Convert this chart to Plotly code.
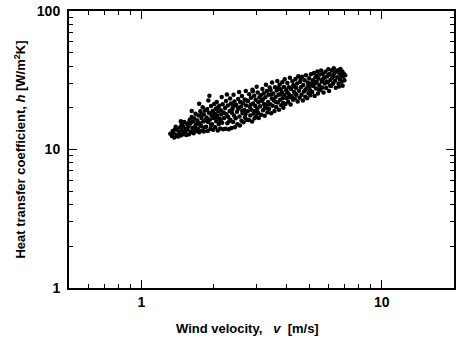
import plotly.graph_objects as go

# Measured wind velocity v [m/s] and heat transfer coefficient h [W/m^2K]
velocity = [
    1.32, 1.34, 1.35, 1.37, 1.38, 1.36, 1.40, 1.41, 1.39, 1.42,
    1.44, 1.45, 1.46, 1.47, 1.48, 1.50, 1.49, 1.51, 1.52, 1.53, 1.54, 1.55, 1.46, 1.50,
    1.56, 1.57, 1.58, 1.59, 1.60, 1.61, 1.62, 1.63, 1.64, 1.65, 1.66, 1.67, 1.68, 1.69, 1.70, 1.62, 1.58, 1.66,
    1.71, 1.72, 1.73, 1.74, 1.75, 1.76, 1.77, 1.78, 1.79, 1.80, 1.81, 1.82, 1.83, 1.84, 1.85, 1.74, 1.79, 1.82, 1.76,
    1.86, 1.87, 1.88, 1.89, 1.90, 1.91, 1.92, 1.93, 1.94, 1.95, 1.96, 1.97, 1.98, 1.99, 2.00, 2.01, 2.02, 1.90, 1.95, 1.99, 1.88,
    2.03, 2.04, 2.05, 2.06, 2.07, 2.08, 2.09, 2.10, 2.11, 2.12, 2.13, 2.14, 2.15, 2.16, 2.17, 2.18, 2.19, 2.20, 2.08, 2.14, 2.05,
    2.21, 2.23, 2.24, 2.25, 2.26, 2.28, 2.29, 2.30, 2.31, 2.33, 2.34, 2.35, 2.36, 2.37, 2.38, 2.40, 2.41, 2.42, 2.43, 2.44, 2.45, 2.27, 2.39, 2.32, 2.44,
    2.47, 2.48, 2.50, 2.51, 2.53, 2.54, 2.56, 2.57, 2.58, 2.60, 2.61, 2.62, 2.64, 2.65, 2.66, 2.68, 2.69, 2.70, 2.72, 2.73, 2.74, 2.75, 2.55, 2.63, 2.71, 2.52,
    2.77, 2.78, 2.80, 2.81, 2.83, 2.84, 2.86, 2.87, 2.89, 2.90, 2.92, 2.93, 2.95, 2.96, 2.98, 2.99, 3.01, 3.02, 3.04, 3.05, 3.07, 3.08, 3.10, 2.85, 2.97, 3.06, 2.91,
    3.12, 3.14, 3.15, 3.17, 3.19, 3.21, 3.23, 3.24, 3.26, 3.28, 3.30, 3.31, 3.33, 3.35, 3.37, 3.38, 3.40, 3.42, 3.44, 3.45, 3.47, 3.49, 3.50, 3.20, 3.36, 3.46, 3.27,
    3.52, 3.54, 3.56, 3.58, 3.60, 3.62, 3.64, 3.66, 3.68, 3.70, 3.72, 3.74, 3.76, 3.78, 3.80, 3.82, 3.84, 3.86, 3.88, 3.90, 3.92, 3.94, 3.95, 3.63, 3.79, 3.71, 3.89,
    3.98, 4.00, 4.03, 4.05, 4.08, 4.10, 4.12, 4.15, 4.18, 4.20, 4.22, 4.25, 4.28, 4.30, 4.32, 4.35, 4.38, 4.40, 4.42, 4.45, 4.47, 4.50, 4.06, 4.26, 4.37, 4.16,
    4.53, 4.56, 4.58, 4.61, 4.64, 4.67, 4.70, 4.72, 4.75, 4.78, 4.81, 4.84, 4.87, 4.90, 4.93, 4.96, 4.99, 5.02, 5.05, 5.08, 5.10, 4.60, 4.82, 4.95, 5.04,
    5.14, 5.17, 5.20, 5.23, 5.26, 5.30, 5.33, 5.36, 5.40, 5.43, 5.46, 5.50, 5.53, 5.56, 5.60, 5.63, 5.66, 5.70, 5.73, 5.76, 5.80, 5.28, 5.48, 5.68, 5.38,
    5.84, 5.88, 5.92, 5.96, 6.00, 6.04, 6.08, 6.12, 6.16, 6.20, 6.24, 6.28, 6.32, 6.36, 6.40, 6.44, 6.48, 5.90, 6.10, 6.30, 6.02,
    6.54, 6.58, 6.62, 6.66, 6.70, 6.74, 6.78, 6.82, 6.86, 6.90, 6.95, 7.00, 7.05, 6.88, 6.64,
]

heat_coeff = [
    13.0, 12.5, 13.6, 12.2, 14.0, 13.2, 12.8, 13.9, 14.6, 12.4,
    13.3, 14.4, 12.6, 15.1, 13.8, 12.9, 14.7, 15.8, 13.5, 14.1, 12.7, 15.3, 16.0, 13.1,
    13.9, 14.8, 12.9, 16.4, 15.4, 13.4, 17.2, 14.3, 15.9, 13.1, 16.8, 14.6, 18.1, 15.2, 13.6, 19.0, 15.7, 14.0,
    16.2, 14.1, 17.6, 13.3, 15.5, 18.9, 14.8, 16.9, 13.7, 20.2, 15.9, 17.9, 14.4, 19.1, 16.3, 21.4, 18.0, 13.5, 15.0,
    14.6, 17.0, 19.6, 13.6, 15.8, 18.4, 24.4, 16.5, 14.1, 20.6, 17.7, 15.2, 19.0, 13.9, 16.9, 21.3, 18.2, 22.6, 15.0, 17.3, 16.0,
    14.5, 19.7, 16.0, 22.0, 17.5, 13.7, 18.8, 15.3, 20.7, 16.6, 14.2, 19.2, 17.9, 23.9, 15.6, 21.2, 14.0, 18.5, 20.1, 16.2, 17.0,
    16.9, 19.9, 14.1, 22.4, 18.0, 15.5, 20.8, 17.2, 14.0, 19.0, 23.3, 16.3, 21.5, 14.3, 18.4, 20.2, 15.8, 24.8, 17.6, 22.2, 14.5, 25.0, 19.5, 16.0, 20.9,
    16.8, 21.0, 18.7, 15.2, 23.2, 19.8, 17.3, 14.9, 22.0, 20.4, 16.1, 24.3, 18.3, 21.6, 15.7, 19.3, 23.0, 17.0, 26.4, 20.8, 16.4, 22.6, 26.0, 19.0, 18.0, 20.0,
    18.9, 22.4, 16.3, 25.1, 20.3, 17.6, 23.6, 19.4, 15.9, 27.0, 21.5, 18.2, 24.4, 16.8, 20.6, 22.9, 17.4, 28.4, 19.7, 25.8, 21.9, 16.9, 23.7, 21.0, 19.0, 18.4, 26.3,
    20.5, 24.6, 17.8, 22.5, 27.3, 19.2, 25.5, 21.3, 17.5, 23.8, 29.4, 20.1, 26.4, 18.6, 22.0, 24.9, 19.6, 28.0, 21.2, 26.9, 18.3, 23.3, 30.4, 23.0, 21.0, 25.0, 20.0,
    20.7, 25.4, 22.6, 19.0, 28.2, 23.9, 20.3, 26.7, 31.2, 21.8, 24.9, 19.4, 29.4, 22.9, 27.2, 20.9, 25.9, 30.6, 23.4, 20.0, 28.3, 24.7, 32.2, 22.0, 25.0, 27.8, 21.7,
    21.3, 26.8, 23.5, 30.2, 22.1, 28.1, 25.0, 33.0, 21.1, 27.3, 24.2, 31.1, 22.9, 29.1, 26.0, 23.3, 32.3, 27.9, 24.8, 30.0, 22.2, 33.8, 25.9, 28.5, 25.3, 23.8,
    26.6, 23.6, 30.9, 28.1, 24.9, 33.5, 22.6, 29.2, 26.2, 31.6, 24.0, 34.4, 27.6, 23.4, 30.4, 25.5, 32.7, 28.6, 24.6, 34.9, 30.0, 32.4, 27.0, 28.8, 26.8,
    26.0, 31.6, 28.7, 35.6, 24.3, 33.2, 27.6, 30.8, 36.6, 25.4, 32.5, 29.2, 34.8, 26.9, 37.2, 31.0, 28.0, 35.1, 25.8, 33.0, 29.9, 30.0, 27.2, 32.0, 34.0,
    36.4, 27.8, 33.6, 30.6, 38.0, 26.5, 35.1, 31.8, 28.7, 37.4, 33.1, 29.9, 38.6, 35.5, 31.3, 27.9, 36.7, 31.0, 29.0, 34.0, 34.5,
    33.2, 37.4, 30.0, 35.6, 32.2, 38.2, 34.4, 30.8, 36.6, 33.6, 35.2, 31.6, 34.4, 28.8, 28.5,
]

x_major = [1, 10]
x_minor = [0.6, 0.7, 0.8, 0.9, 2, 3, 4, 5, 6, 7, 8, 9, 20]
y_major = [1, 10, 100]
y_minor = [2, 3, 4, 5, 6, 7, 8, 9, 20, 30, 40, 50, 60, 70, 80, 90]

tick_font = dict(family="Liberation Sans, Arial, sans-serif", size=14, color="black", weight="bold")
title_font = dict(family="Liberation Sans, Arial, sans-serif", size=13, color="black", weight="bold")

fig = go.Figure(
    go.Scatter(
        x=velocity,
        y=heat_coeff,
        mode="markers",
        marker=dict(size=4.5, color="black", line=dict(width=0)),
        showlegend=False,
    )
)

axis_common = dict(
    type="log",
    showline=True,
    linecolor="black",
    linewidth=2,
    mirror="ticks",
    ticks="inside",
    ticklen=8,
    tickwidth=1.3,
    tickcolor="black",
    showgrid=False,
    zeroline=False,
    tickfont=tick_font,
)

fig.update_xaxes(
    **axis_common,
    range=[-0.30103, 1.30103],
    tickvals=x_major,
    ticktext=[str(v) for v in x_major],
    minor=dict(ticks="inside", ticklen=4, tickvals=x_minor, tickcolor="black", showgrid=False),
)
fig.update_yaxes(
    **axis_common,
    range=[0, 2],
    tickvals=y_major,
    ticktext=[str(v) for v in y_major],
    ticklabelstandoff=4,
    minor=dict(ticks="inside", ticklen=4, tickvals=y_minor, tickcolor="black", showgrid=False),
    title=dict(text="Heat transfer coefficient, <i>h</i> [W/m<sup>2</sup>K]", font=title_font, standoff=8),
)

# x-axis caption, set slightly left of the plot centre
fig.add_annotation(
    text="Wind velocity,&nbsp;&nbsp; <i>v</i>&nbsp; [m/s]",
    xref="paper", yref="paper",
    x=0.4625, y=-0.148,
    xanchor="center", yanchor="middle",
    showarrow=False,
    font=title_font,
)

fig.update_layout(
    width=459,
    height=350,
    margin=dict(l=69, r=3, t=10, b=62),
    plot_bgcolor="white",
    paper_bgcolor="white",
)

fig.write_html("out.html")
